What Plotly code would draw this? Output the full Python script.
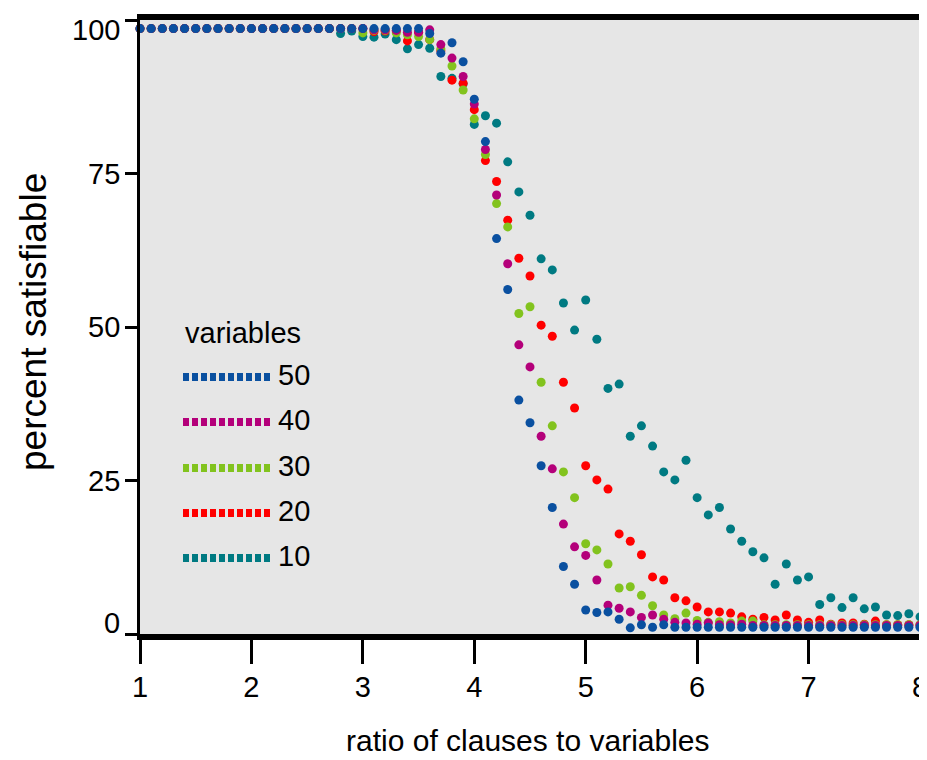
import plotly.graph_objects as go

# ---------------- data ----------------
ratio = [1.0, 1.1, 1.2, 1.3, 1.4, 1.5, 1.6, 1.7, 1.8, 1.9,
         2.0, 2.1, 2.2, 2.3, 2.4, 2.5, 2.6, 2.7, 2.8, 2.9,
         3.0, 3.1, 3.2, 3.3, 3.4, 3.5, 3.6, 3.7, 3.8, 3.9,
         4.0, 4.1, 4.2, 4.3, 4.4, 4.5, 4.6, 4.7, 4.8, 4.9,
         5.0, 5.1, 5.2, 5.3, 5.4, 5.5, 5.6, 5.7, 5.8, 5.9,
         6.0, 6.1, 6.2, 6.3, 6.4, 6.5, 6.6, 6.7, 6.8, 6.9,
         7.0, 7.1, 7.2, 7.3, 7.4, 7.5, 7.6, 7.7, 7.8, 7.9,
         8.0]

pct_10 = [98.6, 98.6, 98.6, 98.6, 98.6, 98.6, 98.6, 98.6, 98.6, 98.6,
          98.6, 98.6, 98.6, 98.6, 98.6, 98.6, 98.6, 98.6, 97.8, 98.2,
          97.3, 97.2, 97.7, 96.8, 95.3, 96.0, 95.4, 90.8, 90.5, 89.6,
          83.0, 84.4, 83.2, 76.9, 72.0, 68.2, 61.1, 59.3, 53.9, 49.5,
          54.4, 48.0, 40.0, 40.7, 32.2, 33.9, 30.6, 26.4, 25.1, 28.3,
          22.2, 19.4, 20.6, 17.1, 15.1, 13.4, 12.4, 8.1, 11.4, 8.8,
          9.3, 4.8, 5.9, 4.3, 5.9, 4.1, 4.4, 3.1, 3.0, 3.3,
          2.8]

pct_20 = [98.6, 98.6, 98.6, 98.6, 98.6, 98.6, 98.6, 98.6, 98.6, 98.6,
          98.6, 98.6, 98.6, 98.6, 98.6, 98.6, 98.6, 98.6, 98.6, 98.6,
          98.6, 98.1, 98.2, 98.2, 96.6, 98.0, 96.8, 95.0, 90.2, 89.7,
          85.4, 77.1, 73.7, 67.4, 61.2, 58.3, 50.3, 48.5, 41.0, 36.8,
          27.4, 25.1, 23.6, 16.3, 15.1, 12.9, 9.3, 8.8, 5.9, 5.4,
          4.4, 3.6, 3.6, 3.4, 2.8, 2.4, 2.7, 2.3, 3.1, 2.3,
          1.9, 2.3, 1.6, 1.8, 1.8, 1.6, 2.1, 1.5, 1.5, 1.5,
          1.5]

pct_30 = [98.6, 98.6, 98.6, 98.6, 98.6, 98.6, 98.6, 98.6, 98.6, 98.6,
          98.6, 98.6, 98.6, 98.6, 98.6, 98.6, 98.6, 98.6, 98.6, 98.6,
          97.9, 98.3, 98.3, 97.9, 97.6, 97.3, 96.8, 95.3, 92.5, 88.6,
          83.9, 78.1, 70.1, 66.3, 52.2, 53.3, 41.0, 33.9, 26.4, 22.2,
          14.7, 13.7, 11.4, 7.5, 7.7, 6.3, 4.6, 3.1, 2.5, 3.4,
          2.2, 1.9, 2.0, 1.8, 2.1, 2.1, 1.5, 1.5, 1.5, 1.5,
          1.5, 1.5, 1.5, 1.5, 1.5, 1.5, 1.5, 1.5, 1.5, 1.5,
          1.5]

pct_40 = [98.6, 98.6, 98.6, 98.6, 98.6, 98.6, 98.6, 98.6, 98.6, 98.6,
          98.6, 98.6, 98.6, 98.6, 98.6, 98.6, 98.6, 98.6, 98.6, 98.6,
          98.6, 98.4, 98.4, 98.3, 98.0, 98.0, 98.4, 96.0, 93.8, 90.8,
          86.3, 78.9, 71.5, 60.3, 47.1, 43.5, 32.2, 26.9, 17.9, 14.2,
          12.8, 8.8, 4.7, 4.2, 3.6, 2.7, 3.1, 2.4, 1.9, 1.8,
          1.6, 1.8, 1.5, 1.5, 1.6, 1.4, 1.4, 1.4, 1.4, 1.4,
          1.4, 1.4, 1.4, 1.4, 1.4, 1.4, 1.4, 1.4, 1.4, 1.4,
          1.4]

pct_50 = [98.6, 98.6, 98.6, 98.6, 98.6, 98.6, 98.6, 98.6, 98.6, 98.6,
          98.6, 98.6, 98.6, 98.6, 98.6, 98.6, 98.6, 98.6, 98.6, 98.6,
          98.6, 98.6, 98.6, 98.6, 98.6, 98.6, 97.8, 94.6, 96.3, 93.2,
          87.1, 80.2, 64.4, 56.1, 38.1, 34.4, 27.4, 20.6, 11.0, 8.1,
          3.9, 3.5, 3.6, 2.4, 1.0, 1.5, 1.1, 1.5, 1.1, 1.1,
          1.1, 1.1, 1.1, 1.1, 1.1, 1.1, 1.1, 1.1, 1.1, 1.1,
          1.1, 1.1, 1.1, 1.1, 1.1, 1.1, 1.1, 1.1, 1.1, 1.1,
          1.1]

series_names = ["10", "20", "30", "40", "50"]
series_values = [pct_10, pct_20, pct_30, pct_40, pct_50]
series_colors = ["#007a82", "#ff0000", "#82c31e", "#b4007a", "#0a50a0"]

x_ticks = [1, 2, 3, 4, 5, 6, 7, 8]
y_ticks = [0, 25, 50, 75, 100]
legend_title = "variables"
x_title = "ratio of clauses to variables"
y_title = "percent satisfiable"

FONT = "Liberation Sans, Arial, Helvetica, sans-serif"

# ---------------- figure ----------------
fig = go.Figure()
for name, vals, col in zip(series_names, series_values, series_colors):
    fig.add_trace(go.Scatter(
        x=ratio, y=vals, mode="markers", name=name,
        marker=dict(symbol="circle", size=9, color=col, line=dict(width=0)),
        cliponaxis=False, showlegend=False,
    ))

# The page body has an 8px default margin, so the figure is sized to fit the
# 927x760 window from (8, 8); page pixel p maps to figure pixel p - 8.
OFF = 8
W, H = 927 - OFF, 760 - OFF
ml, mr, mt, mb = 140 - OFF, 7, 20 - OFF, 126
pw, ph = W - ml - mr, H - mt - mb

def px_x(p):
    return (p - OFF - ml) / pw

def px_y(p):
    return (H - mb - (p - OFF)) / ph

shapes = []
annotations = []
row_px = [558, 513, 468, 422, 377]  # page rows for 10,20,30,40,50
for name, col, ry in zip(series_names, series_colors, row_px):
    shapes.append(dict(type="line", xref="paper", yref="paper",
                       x0=px_x(183), x1=px_x(272), y0=px_y(ry), y1=px_y(ry),
                       line=dict(color=col, width=8, dash="6px,3px")))
    annotations.append(dict(xref="paper", yref="paper", x=px_x(276), y=px_y(ry - 2),
                            text=name, showarrow=False, xanchor="left", yanchor="middle",
                            font=dict(family=FONT, size=29, color="black")))
annotations.append(dict(xref="paper", yref="paper", x=px_x(243), y=px_y(333),
                        text=legend_title, showarrow=False, xanchor="center", yanchor="middle",
                        font=dict(family=FONT, size=29, color="black")))

# y tick labels: the end labels sit slightly inside the axis ends, as in the reference
for v in y_ticks:
    shift = -10 if v == max(y_ticks) else (11 if v == min(y_ticks) else 0)
    annotations.append(dict(xref="paper", yref="y", x=px_x(122), y=v, yshift=shift,
                            text=str(v), showarrow=False, xanchor="right", yanchor="middle",
                            font=dict(family=FONT, size=29, color="black")))

# axis titles
annotations.append(dict(xref="paper", yref="paper", x=px_x(528), y=px_y(740),
                        text=x_title, showarrow=False, xanchor="center", yanchor="middle",
                        font=dict(family=FONT, size=30, color="black")))
annotations.append(dict(xref="paper", yref="paper", x=px_x(33), y=px_y(322),
                        text=y_title, showarrow=False, textangle=-90,
                        xanchor="center", yanchor="middle",
                        font=dict(family=FONT, size=37, color="black")))

fig.update_layout(
    width=W, height=H, autosize=False,
    margin=dict(l=ml, r=mr, t=mt, b=mb, pad=0),
    paper_bgcolor="white", plot_bgcolor="#e6e6e6",
    font=dict(family=FONT, size=28, color="black"),
    shapes=shapes, annotations=annotations,
    showlegend=False,
)
fig.update_xaxes(
    range=[1, 8], tickmode="array", tickvals=x_ticks, ticktext=[str(t) for t in x_ticks],
    ticks="outside", ticklen=24, tickwidth=3, tickcolor="black",
    showline=True, linewidth=6, linecolor="black", mirror=True,
    showgrid=False, zeroline=False, automargin=False,
    ticklabeloverflow="allow", ticklabelstandoff=-2,
    tickfont=dict(family=FONT, size=29, color="black"),
)
fig.update_yaxes(
    range=[0, 100], tickmode="array", tickvals=y_ticks,
    ticks="outside", ticklen=12, tickwidth=3, tickcolor="black",
    showline=True, linewidth=2.5, linecolor="black", mirror=True,
    showgrid=False, zeroline=False, automargin=False,
    showticklabels=False,
)

fig.write_html("out.html")
